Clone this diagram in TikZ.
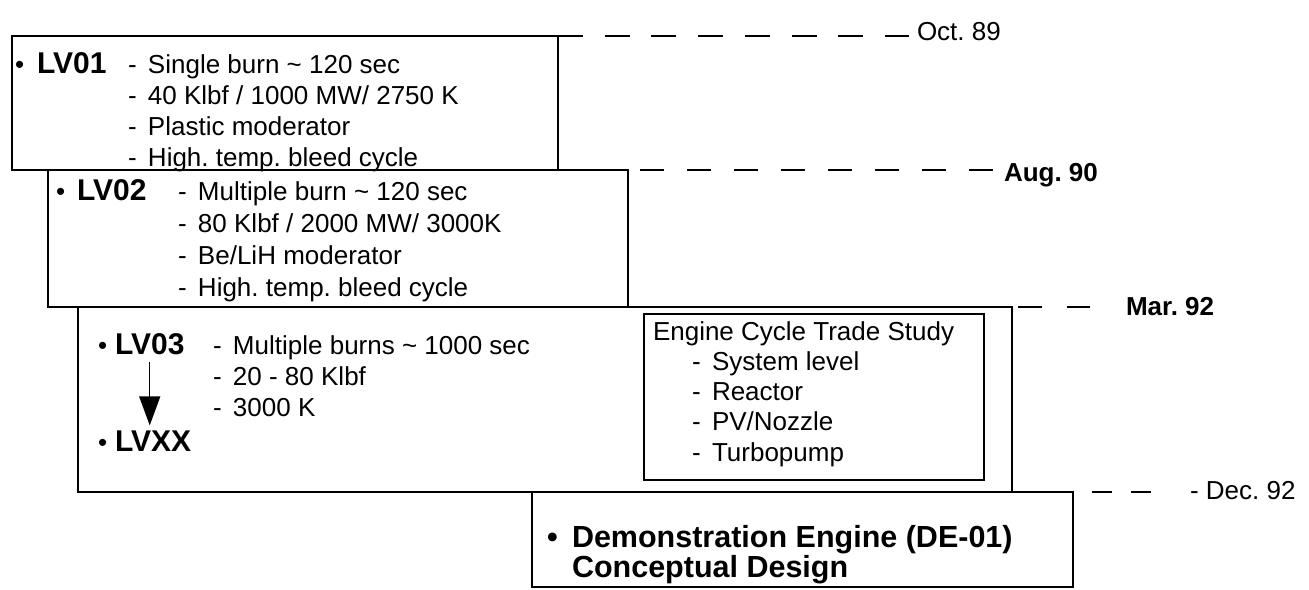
\documentclass[tikz,border=0pt]{standalone}
\usepackage{fontspec}
\setmainfont{Liberation Sans}
\usetikzlibrary{arrows.meta}
\frenchspacing
\newcommand\dashitem[1]{\makebox[20pt][l]{-}#1}
\begin{document}
\frenchspacing
\begin{tikzpicture}[x=1pt,y=-1pt,
  frame/.style={draw, line width=1.8pt, inner sep=0pt, outer sep=0pt, anchor=north west},
  txt/.style={anchor=base west, inner sep=0pt, outer sep=0pt, font=\fontsize{26}{31}\selectfont},
  hdr/.style={anchor=base west, inner sep=0pt, outer sep=0pt, font=\fontsize{30}{36}\selectfont\bfseries},
  big/.style={anchor=base west, inner sep=0pt, outer sep=0pt, font=\fontsize{30.5}{36}\selectfont\bfseries},
  datelbl/.style={anchor=base west, inner sep=0pt, outer sep=0pt, font=\fontsize{26}{31}\selectfont},
  datebold/.style={datelbl, font=\fontsize{26}{31}\selectfont\bfseries},
  dline/.style={line width=1.8pt},
  arr/.style={line width=1.4pt, -{Triangle[width=21pt,length=29pt]}}
]
\useasboundingbox (0,0) rectangle (1309,589);

% boxes
\node[frame, minimum width=546pt, minimum height=134pt] (b1) at (12,36) {};
\node[frame, minimum width=580pt, minimum height=137pt] (b2) at (48,170) {};
\node[frame, minimum width=934pt, minimum height=185pt] (b3) at (78,307) {};
\node[frame, line width=1.6pt, minimum width=340pt, minimum height=166pt] (b4) at (644,314) {};
\node[frame, minimum width=541pt, minimum height=95pt] (b5) at (532,492) {};

% LV01
\node[txt] (bu1) at (15,73) {•};
\node[hdr] (lv01) at (37,73) {LV01};
\node[txt] (a1) at (128,73) {\dashitem{Single burn \char"007E{} 120 sec}};
\node[txt] (a2) at (128,104) {\dashitem{40 Klbf / 1000 MW/ 2750 K}};
\node[txt] (a3) at (128,135) {\dashitem{Plastic moderator}};
\node[txt] (a4) at (128,166) {\dashitem{High. temp. bleed cycle}};

% LV02
\node[txt] (bu2) at (56,200) {•};
\node[hdr] (lv02) at (77,200) {LV02};
\node[txt] (c1) at (178,200) {\dashitem{Multiple burn \char"007E{} 120 sec}};
\node[txt] (c2) at (178,232) {\dashitem{80 Klbf / 2000 MW/ 3000K}};
\node[txt] (c3) at (178,264) {\dashitem{Be/LiH moderator}};
\node[txt] (c4) at (178,296) {\dashitem{High. temp. bleed cycle}};

% LV03
\node[txt] (bu3) at (98,354) {•};
\node[hdr] (lv03) at (115,354) {LV03};
\node[txt] (d1) at (213,354) {\dashitem{Multiple burns \char"007E{} 1000 sec}};
\node[txt] (d2) at (213,385) {\dashitem{20 - 80 Klbf}};
\node[txt] (d3) at (213,416) {\dashitem{3000 K}};
\node[txt] (bu4) at (98,451) {•};
\node[hdr] (lvxx) at (115,451) {LVXX};
\draw[arr, shorten <=8pt, shorten >=5pt] (lv03.south) -- (lv03.south |- lvxx.north);

% Engine cycle trade study
\node[txt] (e0) at (653,340) {Engine Cycle Trade Study};
\node[txt] (e1) at (692,370) {\dashitem{System level}};
\node[txt] (e2) at (692,400) {\dashitem{Reactor}};
\node[txt] (e3) at (692,430) {\dashitem{PV/Nozzle}};
\node[txt] (e4) at (692,461) {\dashitem{Turbopump}};

% Demonstration engine
\node[big] (bu5) at (547,547) {•};
\node[big] (de1) at (572,547) {Demonstration Engine (DE-01)};
\node[big] (de2) at (572,577) {Conceptual Design};

% dates
\node[datelbl] (oct) at (917,40) {Oct. 89};
\node[datebold] (aug) at (1004,181) {Aug. 90};
\node[datebold] (mar) at (1126,315) {Mar. 92};
\node[datelbl] (dec) at (1190,499) {- Dec. 92};

\draw[dline, dash pattern=on 25pt off 21.7pt, shorten >=8pt]
  (b1.north east) -- (b1.north east -| oct.west);
\draw[dline, dash pattern=on 24pt off 23pt, dash phase=35pt, shorten >=11pt]
  (b2.north east) -- (b2.north east -| aug.west);
\draw[dline, dash pattern=on 24pt off 25pt, dash phase=43pt, shorten >=36pt]
  (b3.north east) -- (b3.north east -| mar.west);
\draw[dline, dash pattern=on 20pt off 19pt, dash phase=20pt, shorten >=39pt]
  (b5.north east) -- (b5.north east -| dec.west);
\end{tikzpicture}
\end{document}
